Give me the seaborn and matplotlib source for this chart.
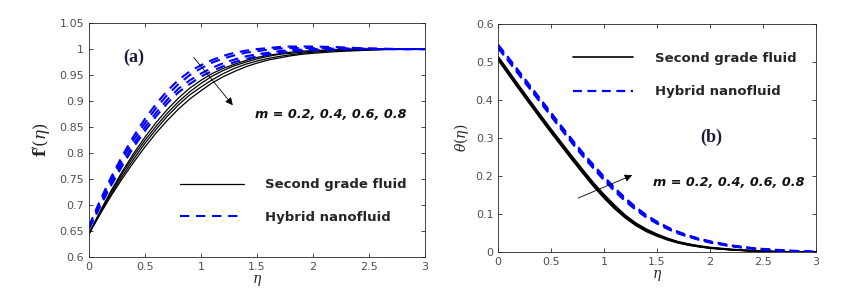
import matplotlib
matplotlib.use("Agg")
import matplotlib.pyplot as plt
from matplotlib.ticker import FuncFormatter, MultipleLocator
import seaborn as sns
import pandas as pd

# eta grid shared by both panels
eta = [0, 0.1, 0.2, 0.3, 0.4, 0.5, 0.6, 0.7, 0.8, 0.9, 1.0,
       1.1, 1.2, 1.3, 1.4, 1.5, 1.6, 1.7, 1.8, 1.9, 2.0,
       2.2, 2.4, 2.6, 2.8, 3.0]
m_values = ["0.2", "0.4", "0.6", "0.8"]

# (a) velocity f'(eta)
fp_second_grade = [
    [0.645, 0.689, 0.729, 0.766, 0.800, 0.831, 0.859, 0.884, 0.906, 0.925, 0.940,
     0.953, 0.963, 0.971, 0.978, 0.984, 0.988, 0.991, 0.994, 0.996, 0.997,
     0.999, 1.000, 1.000, 1.000, 1.000],
    [0.645, 0.687, 0.726, 0.762, 0.795, 0.825, 0.852, 0.877, 0.899, 0.918, 0.934,
     0.948, 0.959, 0.968, 0.975, 0.981, 0.986, 0.990, 0.992, 0.994, 0.996,
     0.998, 0.999, 1.000, 1.000, 1.000],
    [0.645, 0.685, 0.722, 0.757, 0.789, 0.819, 0.846, 0.871, 0.893, 0.912, 0.927,
     0.941, 0.953, 0.963, 0.971, 0.977, 0.982, 0.986, 0.989, 0.992, 0.994,
     0.997, 0.998, 0.999, 1.000, 1.000],
    [0.645, 0.683, 0.719, 0.752, 0.783, 0.812, 0.839, 0.863, 0.885, 0.904, 0.920,
     0.935, 0.947, 0.957, 0.966, 0.973, 0.979, 0.983, 0.987, 0.990, 0.992,
     0.995, 0.997, 0.999, 1.000, 1.000],
]
fp_hybrid = [
    [0.660, 0.710, 0.755, 0.796, 0.833, 0.866, 0.895, 0.920, 0.941, 0.957, 0.969,
     0.979, 0.987, 0.993, 0.997, 1.000, 1.002, 1.004, 1.005, 1.005, 1.005,
     1.004, 1.002, 1.001, 1.000, 1.000],
    [0.658, 0.706, 0.750, 0.790, 0.826, 0.858, 0.887, 0.912, 0.933, 0.950, 0.963,
     0.974, 0.982, 0.988, 0.993, 0.996, 0.999, 1.001, 1.002, 1.002, 1.002,
     1.002, 1.001, 1.000, 1.000, 1.000],
    [0.656, 0.702, 0.744, 0.783, 0.818, 0.850, 0.878, 0.903, 0.924, 0.940, 0.953,
     0.964, 0.973, 0.980, 0.986, 0.990, 0.993, 0.996, 0.998, 0.999, 1.000,
     1.001, 1.001, 1.000, 1.000, 1.000],
    [0.654, 0.698, 0.739, 0.777, 0.812, 0.843, 0.871, 0.896, 0.917, 0.933, 0.947,
     0.958, 0.967, 0.975, 0.981, 0.986, 0.990, 0.993, 0.995, 0.997, 0.998,
     0.999, 1.000, 1.000, 1.000, 1.000],
]

# (b) temperature theta(eta)
theta_second_grade = [
    [0.505, 0.466, 0.427, 0.389, 0.351, 0.314, 0.278, 0.242, 0.207, 0.173, 0.142,
     0.114, 0.090, 0.070, 0.054, 0.042, 0.032, 0.024, 0.018, 0.014, 0.010,
     0.006, 0.003, 0.001, 0.000, 0.000],
    [0.508, 0.469, 0.430, 0.392, 0.354, 0.317, 0.281, 0.245, 0.210, 0.176, 0.145,
     0.117, 0.092, 0.072, 0.056, 0.044, 0.033, 0.025, 0.019, 0.014, 0.011,
     0.006, 0.003, 0.001, 0.000, 0.000],
    [0.511, 0.472, 0.433, 0.395, 0.357, 0.320, 0.284, 0.248, 0.213, 0.179, 0.148,
     0.120, 0.095, 0.074, 0.058, 0.045, 0.034, 0.026, 0.020, 0.015, 0.011,
     0.006, 0.003, 0.001, 0.000, 0.000],
    [0.514, 0.475, 0.436, 0.398, 0.360, 0.323, 0.287, 0.251, 0.216, 0.182, 0.151,
     0.123, 0.097, 0.076, 0.060, 0.047, 0.036, 0.027, 0.021, 0.016, 0.012,
     0.007, 0.003, 0.001, 0.000, 0.000],
]
theta_hybrid = [
    [0.536, 0.501, 0.465, 0.429, 0.393, 0.357, 0.321, 0.286, 0.252, 0.220, 0.189,
     0.160, 0.134, 0.111, 0.091, 0.075, 0.061, 0.049, 0.040, 0.032, 0.025,
     0.015, 0.009, 0.005, 0.002, 0.000],
    [0.539, 0.504, 0.468, 0.432, 0.396, 0.360, 0.324, 0.289, 0.255, 0.223, 0.192,
     0.163, 0.137, 0.113, 0.093, 0.077, 0.062, 0.050, 0.041, 0.033, 0.026,
     0.016, 0.009, 0.005, 0.002, 0.000],
    [0.542, 0.507, 0.471, 0.435, 0.399, 0.363, 0.327, 0.292, 0.258, 0.226, 0.195,
     0.166, 0.139, 0.116, 0.095, 0.078, 0.064, 0.052, 0.042, 0.034, 0.027,
     0.017, 0.010, 0.005, 0.002, 0.000],
    [0.545, 0.510, 0.474, 0.438, 0.402, 0.366, 0.330, 0.295, 0.261, 0.229, 0.198,
     0.169, 0.142, 0.118, 0.097, 0.080, 0.065, 0.053, 0.043, 0.035, 0.028,
     0.017, 0.010, 0.006, 0.003, 0.000],
]

labels = ["Second grade fluid", "Hybrid nanofluid"]
m_text = "m = 0.2, 0.4, 0.6, 0.8"

sns.set_theme(style="white")
plt.rcParams['font.family'] = ['DejaVu Sans']
plt.rcParams['mathtext.fontset'] = 'dejavuserif'

fig = plt.figure(figsize=(8.65, 3.0), dpi=100)
ax_a = fig.add_axes([0.103, 0.143, 0.388, 0.780])
ax_b = fig.add_axes([0.576, 0.160, 0.367, 0.760])


def draw_group(ax, curves, color, lw, dashes, label):
    for i, vals in enumerate(curves):
        df = pd.DataFrame({'eta': eta, 'v': vals})
        sns.lineplot(data=df, x='eta', y='v', ax=ax, color=color, lw=lw,
                     estimator=None, sort=False,
                     label=label if i == 0 else None)
        if dashes is not None:
            ax.lines[-1].set_dashes(dashes)


def style_axes(ax):
    for sp in ax.spines.values():
        sp.set_visible(True)
        sp.set_color('#262626')
        sp.set_linewidth(0.6)
    ax.tick_params(direction='in', length=3, width=0.6, colors='#262626',
                   labelcolor='#505050', labelsize=8,
                   top=True, right=True, bottom=True, left=True)
    ax.xaxis.set_major_locator(MultipleLocator(0.5))
    fmt = FuncFormatter(lambda v, p: f"{v:g}")
    ax.xaxis.set_major_formatter(fmt)
    ax.yaxis.set_major_formatter(fmt)
    ax.set_xlim(0, 3)
    ax.set_xlabel(r"$\eta$", fontsize=10, labelpad=1)


# panel (a)
draw_group(ax_a, fp_second_grade, 'black', 0.9, None, labels[0])
draw_group(ax_a, fp_hybrid, '#0000ff', 1.5, (4.5, 3.2), labels[1])
style_axes(ax_a)
ax_a.set_ylim(0.6, 1.05)
ax_a.yaxis.set_major_locator(MultipleLocator(0.05))
ax_a.set_ylabel(r"$\mathbf{f}^{\prime}(\eta)$", fontsize=12, labelpad=4)
ax_a.text(0.40, 0.985, "(a)", fontsize=13, fontweight='bold', color='#1c1c3a',
          family='Liberation Serif', ha='center', va='center')
ax_a.text(1.48, 0.875, m_text, fontsize=9.2, fontweight='bold', style='italic',
          ha='left', va='center', color='#111111')
ax_a.annotate('', xy=(1.30, 0.888), xytext=(0.92, 0.988),
              arrowprops=dict(arrowstyle='-|>', color='black', lw=0.6,
                              mutation_scale=11))
ax_a.legend(loc='center left', bbox_to_anchor=(0.27, 0.24), frameon=False,
            handlelength=4.9, handletextpad=1.6, labelspacing=1.45,
            borderpad=0, borderaxespad=0,
            prop=dict(weight='bold', size=9.5))

# panel (b)
draw_group(ax_b, theta_second_grade, 'black', 1.2, None, labels[0])
draw_group(ax_b, theta_hybrid, '#0000ff', 1.6, (4.0, 2.5), labels[1])
style_axes(ax_b)
ax_b.set_ylim(0, 0.6)
ax_b.yaxis.set_major_locator(MultipleLocator(0.1))
ax_b.set_ylabel(r"$\theta(\eta)$", fontsize=10, labelpad=3)
ax_b.text(2.01, 0.303, "(b)", fontsize=13, fontweight='bold', color='#1c1c3a',
          family='Liberation Serif', ha='center', va='center')
ax_b.text(1.46, 0.182, m_text, fontsize=9.2, fontweight='bold', style='italic',
          ha='left', va='center', color='#111111')
ax_b.annotate('', xy=(1.29, 0.205), xytext=(0.73, 0.139),
              arrowprops=dict(arrowstyle='-|>', color='black', lw=0.6,
                              mutation_scale=11))
ax_b.legend(loc='center left', bbox_to_anchor=(0.235, 0.776), frameon=False,
            handlelength=4.55, handletextpad=1.7, labelspacing=1.55,
            borderpad=0, borderaxespad=0,
            prop=dict(weight='bold', size=9.5))

fig.savefig("out.png", dpi=100)
